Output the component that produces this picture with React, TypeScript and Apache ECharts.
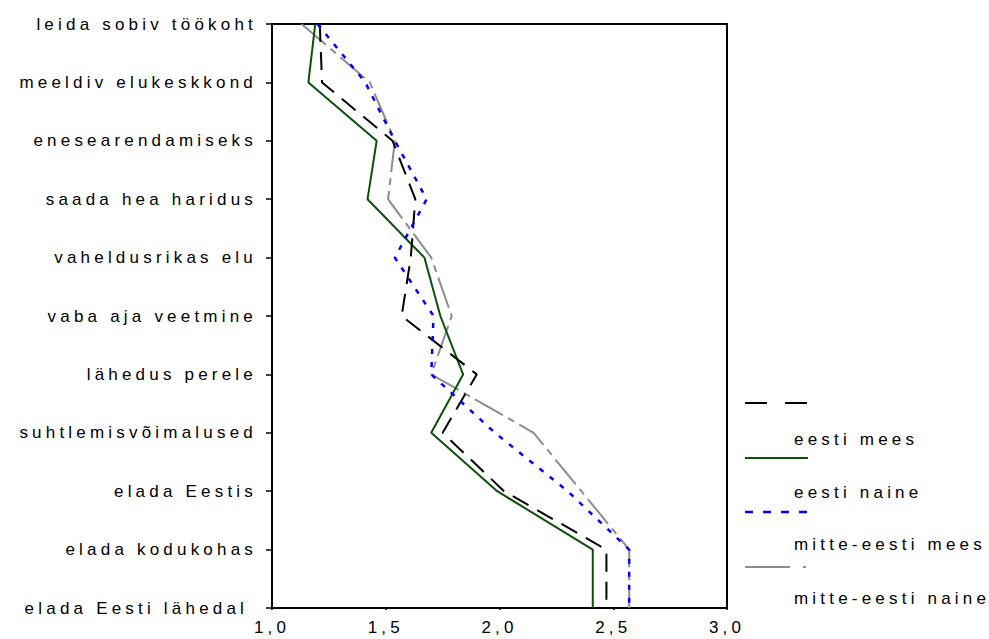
import React, { useEffect, useRef } from "react";
import * as echarts from "echarts";

const categories = [
  "leida sobiv töökoht",
  "meeldiv elukeskkond",
  "enesearendamiseks",
  "saada hea haridus",
  "vaheldusrikas elu",
  "vaba aja veetmine",
  "lähedus perele",
  "suhtlemisvõimalused",
  "elada Eestis",
  "elada kodukohas",
  "elada Eesti lähedal\u00a0",
];

const xTicks = [1.0, 1.5, 2.0, 2.5, 3.0];

const seriesNames = ["eesti mees", "eesti naine", "mitte-eesti mees", "mitte-eesti naine"];

// black dashed
const blackValues = [1.21, 1.22, 1.53, 1.63, 1.61, 1.57, 1.9, 1.75, 2.02, 2.47, 2.47];
// green solid
const greenValues = [1.19, 1.16, 1.46, 1.42, 1.67, 1.74, 1.84, 1.7, 1.99, 2.41, 2.41];
// blue dotted
const blueValues = [1.2, 1.41, 1.54, 1.68, 1.54, 1.71, 1.7, 1.98, 2.3, 2.57, 2.57];
// gray dash-dot
const grayValues = [1.13, 1.43, 1.54, 1.51, 1.7, 1.79, 1.7, 2.15, 2.36, 2.57, 2.57];

const FONT = "Liberation Sans, Arial, sans-serif";

const pairs = (vals: number[]) => vals.map((v, i) => [v, categories[i]]);

export default function App() {
  const ref = useRef<HTMLDivElement>(null);

  useEffect(() => {
    if (!ref.current) return;
    const chart = echarts.init(ref.current, null, { renderer: "svg" });

    const legendLine = (y: number, color: string, dash: number[] | null, width: number, x1 = 745, x2 = 808) => ({
      type: "line",
      shape: { x1, y1: y, x2, y2: y },
      style: { stroke: color, lineWidth: width, lineDash: dash || undefined },
      silent: true,
    });
    const legendText = (y: number, text: string) => ({
      type: "text",
      x: 794,
      y,
      style: {
        text,
        font: `17px ${FONT}`,
        fill: "#000",
        align: "left",
        verticalAlign: "middle",
        textVerticalAlign: "middle",
      },
      silent: true,
    });

    chart.setOption({
      animation: false,
      backgroundColor: "#fff",
      grid: {
        left: 272,
        top: 24,
        right: 262,
        bottom: 31,
        show: true,
        borderColor: "#000",
        borderWidth: 2,
        backgroundColor: "transparent",
      },
      xAxis: {
        type: "value",
        min: 1,
        max: 3,
        interval: 0.5,
        splitLine: { show: false },
        axisLine: { show: true, onZero: false, lineStyle: { color: "#000", width: 2 } },
        axisTick: { show: true, length: 2, lineStyle: { color: "#000", width: 1.5 } },
        axisLabel: {
          color: "#000",
          fontFamily: FONT,
          fontSize: 17,
          margin: 11,
          customValues: xTicks,
          formatter: (v: number) => v.toFixed(1).replace(".", ","),
        },
      },
      yAxis: {
        type: "category",
        data: categories,
        inverse: true,
        boundaryGap: false,
        axisLine: { show: true, onZero: false, lineStyle: { color: "#000", width: 2 } },
        axisTick: { show: true, length: 6, alignWithLabel: true, lineStyle: { color: "#000", width: 1.5 } },
        axisLabel: {
          color: "#000",
          fontFamily: FONT,
          fontSize: 17,
          margin: 15,
          interval: 0,
        },
        splitLine: { show: false },
      },
      series: [
        {
          name: seriesNames[3],
          type: "line",
          data: pairs(grayValues),
          symbol: "none",
          lineStyle: { color: "#8c8c8c", width: 2, type: [32, 6, 7, 6] },
        },
        {
          name: seriesNames[1],
          type: "line",
          data: pairs(greenValues),
          symbol: "none",
          lineStyle: { color: "#0b500b", width: 2 },
        },
        {
          name: seriesNames[0],
          type: "line",
          data: pairs(blackValues),
          symbol: "none",
          lineStyle: { color: "#000", width: 2, type: [18, 10] },
        },
        {
          name: seriesNames[2],
          type: "line",
          data: pairs(blueValues),
          symbol: "none",
          lineStyle: { color: "#0000ff", width: 2.5, type: [5, 8] },
        },
      ],
      graphic: [
        legendLine(403, "#000", [22, 18], 2),
        legendText(439, seriesNames[0]),
        legendLine(458, "#0b500b", null, 2),
        legendText(492, seriesNames[1]),
        legendLine(512, "#0000ff", [8, 10], 2.5),
        legendText(544, seriesNames[2]),
        legendLine(567, "#8c8c8c", [45, 13, 3, 20], 2),
        legendText(598, seriesNames[3]),
      ],
    });

    return () => chart.dispose();
  }, []);

  return (
    <div
      ref={ref}
      style={{
        position: "absolute",
        left: 0,
        top: 0,
        width: 989,
        height: 639,
        letterSpacing: "4.2px",
        background: "#fff",
      }}
    />
  );
}
